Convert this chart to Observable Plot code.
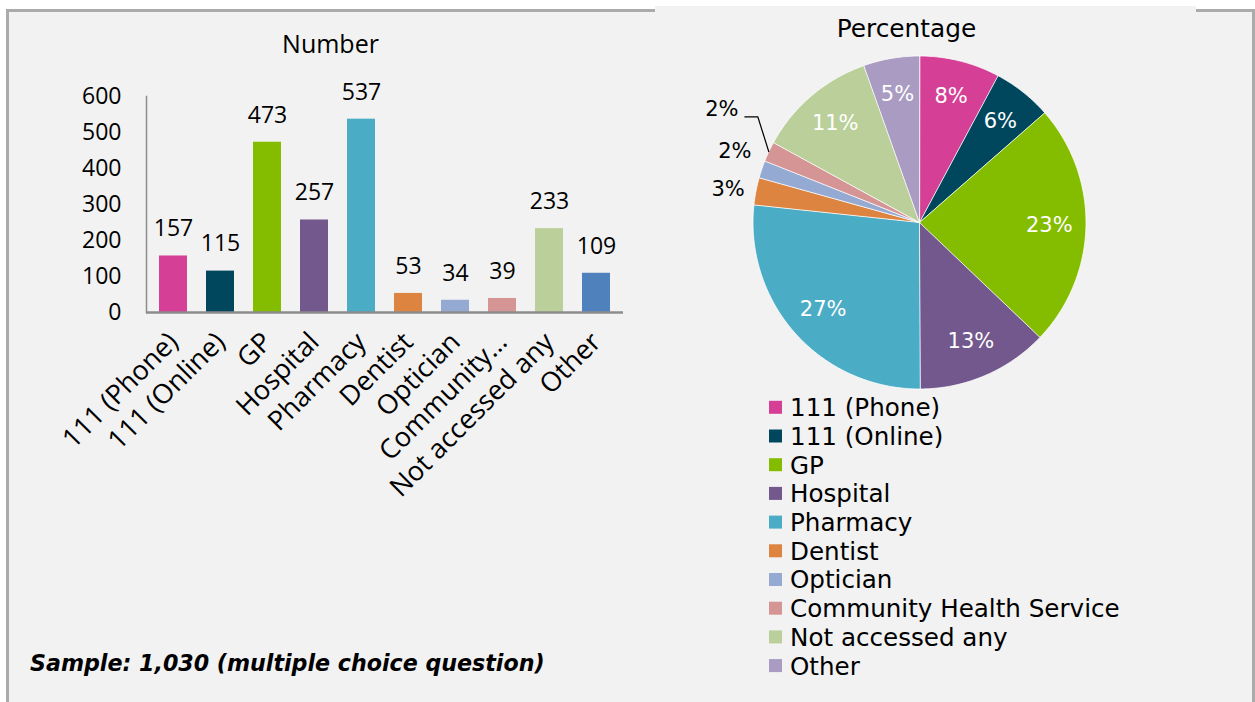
<!DOCTYPE html>
<html>
<head>
<meta charset="utf-8">
<script src="https://cdn.jsdelivr.net/npm/d3@7"></script>
<script src="https://cdn.jsdelivr.net/npm/@observablehq/plot@0.6"></script>
<style>
html,body{margin:0;padding:0;background:#fff;}
#root{position:relative;width:1255px;height:702px;overflow:hidden;background:#fff;}
#box{position:absolute;left:6px;top:9px;width:1243px;height:720px;border:3px solid #ababab;border-bottom:none;background:#f2f2f2;}
#pane{position:absolute;left:655px;top:6px;width:541px;height:700px;background:#f2f2f2;}
.abs{position:absolute;}
</style>
</head>
<body>
<div id="root">
  <div id="box"></div>
  <div id="pane"></div>
  <div id="bar" class="abs" style="left:0;top:0;"></div>
  <div id="pie" class="abs" style="left:719px;top:21.5px;"></div>
  <div id="overlay" class="abs" style="left:0;top:0;"></div>
</div>
<script>
// ---------- data ----------
const categories = ["111 (Phone)","111 (Online)","GP","Hospital","Pharmacy","Dentist","Optician","Community Health Service","Not accessed any","Other"];
const xTickLabels = ["111 (Phone)","111 (Online)","GP","Hospital","Pharmacy","Dentist","Optician","Community…","Not accessed any","Other"];
const counts = [157,115,473,257,537,53,34,39,233,109];
const piePercentLabels = ["8%","6%","23%","13%","27%","3%","2%","2%","11%","5%"];
const barColors = ["#d63f96","#00475e","#84bd00","#72588c","#4bacc6","#dd8441","#95aad3","#d69595","#bacf99","#4f81bd"];
const pieColors = ["#d63f96","#00475e","#84bd00","#72588c","#4bacc6","#dd8441","#95aad3","#d69595","#bacf99","#a99bc1"];
const yTicks = [0,100,200,300,400,500,600];
const barTitle = "Number";
const pieTitle = "Percentage";
const caption = "Sample: 1,030 (multiple choice question)";

const data = categories.map((c,i)=>({category:c, count:counts[i], pct:piePercentLabels[i]}));

// ---------- bar chart ----------
const barSvg = Plot.plot({
  width: 650, height: 520,
  marginLeft: 146, marginRight: 27, marginTop: 96, marginBottom: 208,
  style: {background:"transparent", fontFamily:"'Open Sans', sans-serif", fontSize:"23px", color:"#000", overflow:"visible"},
  x: {domain: categories, paddingInner: 0.41, paddingOuter: 0.205},
  y: {domain: [0,600]},
  color: {domain: categories, range: barColors},
  marks: [
    Plot.barY(data, {x:"category", y:"count", fill:"category"}),
    Plot.axisY({ticks: yTicks, tickSize:0, tickPadding:25, label:null, fontSize:23, tickFormat: d=>String(d)}),
    Plot.axisX({tickSize:0, tickPadding:25, tickRotate:-45, label:null, fontSize:27, tickFormat: c => xTickLabels[categories.indexOf(c)]}),
    Plot.frame({anchor:"left", stroke:"#8c8c8c", strokeWidth:1.5}),
    Plot.ruleY([0], {stroke:"#8c8c8c", strokeWidth:2.5}),
    Plot.text(data, {x:"category", y:"count", text: d=>String(d.count), dy:-27, fontSize:23, fill:"#000"})
  ]
});
document.getElementById("bar").appendChild(barSvg);

// ---------- pie chart ----------
const R = 166.5;
const arcs = d3.pie().sort(null).value(d=>d.count)(data);
const pts = [];
arcs.forEach(s => {
  const c = s.data.category;
  pts.push({category:c, x:0, y:0});
  const n = Math.max(2, Math.ceil((s.endAngle - s.startAngle)/(Math.PI/180)));
  for (let k=0;k<=n;k++){
    const a = s.startAngle + (s.endAngle - s.startAngle)*k/n;
    pts.push({category:c, x:Math.sin(a), y:Math.cos(a)});
  }
});
const inside = [], outside = [], leader = [];
let prev = null;
arcs.forEach(s => {
  const mid = (s.startAngle + s.endAngle)/2;
  const share = (s.endAngle - s.startAngle)/(2*Math.PI);
  if (share >= 0.04) {
    inside.push({x:0.78*Math.sin(mid), y:0.78*Math.cos(mid), t:s.data.pct});
  } else {
    let px = 1.17*R*Math.sin(mid), py = -1.17*R*Math.cos(mid) + 3;
    if (prev && prev.py - py < 38) {
      const shift = 38 - (prev.py - py);
      if (shift > 20) {
        const lx = prev.px - 13, ly = prev.py - 42;
        const ex = R*Math.sin(mid), ey = -R*Math.cos(mid);
        leader.push({x:(lx+23)/R, y:-(ly+8)/R},{x:(lx+36)/R, y:-(ly+8)/R},{x:ex/R, y:-ey/R});
        px = lx; py = ly;
      } else {
        py = prev.py - 38;
      }
    }
    outside.push({x:px/R, y:-py/R, t:s.data.pct});
    prev = {px, py};
  }
});
const pieSvg = Plot.plot({
  width: 400, height: 400, margin: 33.5,
  x: {domain:[-1,1], axis:null},
  y: {domain:[-1,1], axis:null},
  color: {domain: categories, range: pieColors},
  style: {background:"transparent", overflow:"visible", fontFamily:"'DejaVu Sans', sans-serif"},
  marks: [
    Plot.line(pts, {x:"x", y:"y", z:"category", fill:"category", stroke:"#ffffff", strokeWidth:0.75, curve:"linear-closed"}),
    Plot.text(inside, {x:"x", y:"y", text:"t", fill:"#ffffff", fontSize:21}),
    Plot.text(outside, {x:"x", y:"y", text:"t", fill:"#000000", fontSize:21}),
    Plot.line(leader, {x:"x", y:"y", stroke:"#000000", strokeWidth:1.2})
  ]
});
document.getElementById("pie").appendChild(pieSvg);

// ---------- titles, legend, caption ----------
const ov = d3.select("#overlay").append("svg").attr("width",1255).attr("height",702).style("overflow","visible");
ov.append("text").attr("x",330.5).attr("y",53).attr("text-anchor","middle")
  .attr("font-family","'Open Sans', sans-serif").attr("font-size",25).attr("fill","#000").text(barTitle);
ov.append("text").attr("x",906.5).attr("y",37).attr("text-anchor","middle")
  .attr("font-family","'DejaVu Sans', sans-serif").attr("font-size",24.8).attr("fill","#000").text(pieTitle);
const lg = ov.append("g");
categories.forEach((c,i)=>{
  const cyRow = 407.3 + i*28.7;
  lg.append("rect").attr("x",769).attr("y",cyRow-6.5).attr("width",13).attr("height",13).attr("fill",pieColors[i]);
  lg.append("text").attr("x",790).attr("y",cyRow+8.9).attr("font-family","'DejaVu Sans', sans-serif")
    .attr("font-size",24.6).attr("fill","#000").text(c);
});
const cap = ov.append("text").attr("x",30).attr("y",671).attr("font-family","'DejaVu Sans', sans-serif")
  .attr("font-weight","bold").attr("font-style","italic").attr("font-size",20).attr("fill","#000").text(caption);
const wcap = cap.node().getComputedTextLength();
cap.attr("font-size", 20*515/wcap);
</script>
</body>
</html>
